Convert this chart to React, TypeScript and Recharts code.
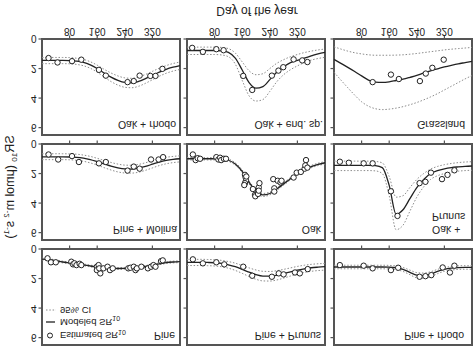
import { ComposedChart, Line, Scatter, XAxis, YAxis, ReferenceArea } from "recharts";

const DAYS = [0, 20, 40, 60, 80, 100, 120, 140, 160, 180, 200, 220, 240, 260, 280, 300, 320, 340, 360, 380, 400];
const X_TICKS = [80, 160, 240, 320];
const Y_TICKS = [0, 2, 4, 6];

// Oak + rhodo
const OAK_RHODO_PT_DAY = [19, 45, 87, 114, 165, 185, 248, 266, 283, 314, 329, 349];
const OAK_RHODO_PT_SR = [1.29, 1.59, 1.5, 1.4, 2.09, 2.48, 2.92, 2.85, 2.48, 2.5, 2.5, 2.02];
const OAK_RHODO_MOD = [1.45, 1.45, 1.45, 1.45, 1.46, 1.5, 1.58, 1.75, 2.0, 2.3, 2.58, 2.8, 2.94, 2.97, 2.87, 2.68, 2.46, 2.24, 2.05, 1.91, 1.8];
const OAK_RHODO_CI1 = [1.25, 1.25, 1.25, 1.25, 1.26, 1.3, 1.38, 1.54, 1.77, 2.05, 2.3, 2.5, 2.63, 2.66, 2.57, 2.4, 2.19, 1.98, 1.8, 1.66, 1.56];
const OAK_RHODO_CI2 = [1.67, 1.67, 1.67, 1.67, 1.68, 1.72, 1.81, 1.98, 2.25, 2.57, 2.88, 3.12, 3.27, 3.3, 3.2, 3.0, 2.76, 2.52, 2.32, 2.17, 2.06];

// Oak + end. sp.
const OAK_END_PT_DAY = [15, 46, 85, 106, 163, 189, 246, 265, 279, 309, 334, 349];
const OAK_END_PT_SR = [0.6, 0.87, 0.69, 0.76, 2.5, 3.45, 2.48, 2.14, 1.91, 1.38, 1.45, 1.56];
const OAK_END_MOD = [0.78, 0.78, 0.78, 0.78, 0.78, 0.8, 0.9, 1.3, 2.1, 2.95, 3.33, 3.22, 2.75, 2.25, 1.88, 1.6, 1.45, 1.3, 1.15, 1.0, 0.9];
const OAK_END_CI1 = [0.55, 0.55, 0.55, 0.55, 0.55, 0.57, 0.65, 0.95, 1.55, 2.15, 2.42, 2.35, 2.0, 1.65, 1.4, 1.2, 1.05, 0.92, 0.82, 0.74, 0.68];
const OAK_END_CI2 = [1.05, 1.05, 1.05, 1.05, 1.05, 1.08, 1.2, 1.7, 2.8, 3.85, 4.2, 4.1, 3.55, 2.9, 2.42, 2.08, 1.82, 1.6, 1.43, 1.32, 1.24];

// Grassland
const GRASS_PT_DAY = [112, 165, 188, 249, 266, 285, 318];
const GRASS_PT_SR = [2.92, 2.41, 2.71, 2.85, 2.34, 1.95, 1.4];
const GRASS_MOD = [1.38, 1.65, 1.92, 2.2, 2.5, 2.78, 2.92, 2.94, 2.9, 2.81, 2.72, 2.6, 2.47, 2.3, 2.15, 2.02, 1.89, 1.78, 1.68, 1.6, 1.52];
const GRASS_CI1 = [0.53, 0.68, 0.82, 0.93, 1.01, 1.07, 1.1, 1.1, 1.1, 1.09, 1.07, 1.03, 0.98, 0.92, 0.86, 0.8, 0.74, 0.69, 0.65, 0.61, 0.57];
const GRASS_CI2 = [2.25, 2.78, 3.3, 3.8, 4.25, 4.55, 4.72, 4.78, 4.75, 4.68, 4.58, 4.45, 4.3, 4.12, 3.92, 3.7, 3.45, 3.2, 2.95, 2.7, 2.48];

// Pine + Molina
const PINE_MOL_PT_DAY = [19, 47, 87, 107, 165, 185, 248, 266, 283, 316, 338, 351];
const PINE_MOL_PT_SR = [0.71, 1.05, 0.82, 1.22, 1.31, 1.22, 1.8, 1.53, 1.67, 1.05, 1.05, 0.89];
const PINE_MOL_MOD = [0.87, 0.87, 0.87, 0.87, 0.88, 0.9, 0.96, 1.06, 1.2, 1.35, 1.5, 1.62, 1.69, 1.7, 1.64, 1.52, 1.37, 1.22, 1.11, 1.04, 1.0];
const PINE_MOL_CI1 = [0.66, 0.66, 0.66, 0.66, 0.67, 0.69, 0.75, 0.84, 0.97, 1.11, 1.25, 1.36, 1.43, 1.44, 1.38, 1.27, 1.13, 0.99, 0.9, 0.84, 0.8];
const PINE_MOL_CI2 = [1.06, 1.06, 1.06, 1.06, 1.07, 1.1, 1.17, 1.28, 1.43, 1.6, 1.76, 1.89, 1.96, 1.97, 1.91, 1.78, 1.62, 1.46, 1.34, 1.26, 1.21];

// Oak
const OAK_PT_DAY = [17, 25, 31, 38, 85, 91, 96, 99, 107, 113, 168, 170, 171, 168, 166, 172, 191, 197, 198, 206, 208, 210, 208, 250, 253, 253, 263, 271, 274, 309, 318, 330, 341, 345, 343, 349];
const OAK_PT_SR = [0.71, 1.09, 0.96, 1.0, 0.89, 1.05, 0.93, 1.09, 1.0, 1.0, 2.09, 2.27, 2.49, 2.65, 2.78, 2.2, 3.05, 3.45, 3.54, 3.38, 2.94, 2.65, 3.16, 2.38, 3.0, 3.22, 2.49, 2.6, 2.49, 2.27, 1.94, 1.89, 1.67, 1.09, 1.45, 1.6];
const OAK_MOD = [1.0, 1.0, 1.0, 1.0, 1.0, 1.02, 1.1, 1.35, 1.85, 2.6, 3.2, 3.45, 3.35, 3.05, 2.7, 2.35, 2.02, 1.75, 1.53, 1.38, 1.27];
const OAK_CI1 = [0.92, 0.92, 0.92, 0.92, 0.92, 0.94, 1.02, 1.27, 1.76, 2.5, 3.1, 3.35, 3.25, 2.96, 2.61, 2.27, 1.94, 1.67, 1.45, 1.3, 1.19];
const OAK_CI2 = [1.08, 1.08, 1.08, 1.08, 1.08, 1.1, 1.18, 1.43, 1.94, 2.7, 3.3, 3.55, 3.45, 3.14, 2.79, 2.43, 2.1, 1.83, 1.61, 1.46, 1.35];

// Oak + Prunus
const OAK_PRU_PT_DAY = [17, 43, 86, 112, 165, 184, 248, 265, 281, 313, 329, 349];
const OAK_PRU_PT_SR = [1.2, 1.27, 1.31, 1.31, 3.2, 4.87, 2.65, 2.56, 1.94, 2.38, 2.09, 1.78];
const OAK_PRU_MOD = [1.45, 1.45, 1.45, 1.45, 1.45, 1.45, 1.47, 1.6, 2.8, 4.75, 4.45, 3.7, 2.95, 2.4, 2.0, 1.8, 1.68, 1.6, 1.55, 1.51, 1.49];
const OAK_PRU_CI1 = [1.16, 1.16, 1.16, 1.16, 1.16, 1.16, 1.18, 1.28, 2.2, 3.6, 3.5, 2.95, 2.4, 2.0, 1.7, 1.52, 1.4, 1.32, 1.26, 1.22, 1.2];
const OAK_PRU_CI2 = [1.8, 1.8, 1.8, 1.8, 1.8, 1.8, 1.82, 2.0, 3.5, 5.8, 5.5, 4.55, 3.6, 2.9, 2.4, 2.15, 2.0, 1.9, 1.84, 1.8, 1.78];

// Pine
const PINE_PT_DAY = [16, 26, 40, 85, 90, 94, 100, 109, 114, 159, 164, 159, 169, 166, 178, 190, 197, 205, 250, 256, 266, 271, 275, 288, 307, 316, 323, 329, 345, 350];
const PINE_PT_SR = [0.63, 0.9, 0.9, 0.86, 1.04, 0.97, 1.09, 1.0, 1.09, 1.2, 1.09, 1.43, 1.65, 1.31, 1.31, 1.2, 1.43, 1.31, 1.31, 1.27, 1.2, 1.43, 1.31, 1.2, 1.31, 1.2, 1.09, 1.2, 0.82, 0.77];
const PINE_MOD = [0.68, 0.72, 0.8, 0.88, 0.94, 1.0, 1.07, 1.15, 1.22, 1.28, 1.31, 1.32, 1.31, 1.28, 1.24, 1.18, 1.1, 1.0, 0.92, 0.88, 0.86];
const PINE_CI1 = [0.62, 0.66, 0.74, 0.82, 0.88, 0.94, 1.01, 1.09, 1.16, 1.22, 1.25, 1.26, 1.25, 1.22, 1.18, 1.12, 1.04, 0.94, 0.86, 0.82, 0.8];
const PINE_CI2 = [0.74, 0.78, 0.86, 0.94, 1.0, 1.06, 1.13, 1.21, 1.28, 1.34, 1.37, 1.38, 1.37, 1.34, 1.3, 1.24, 1.16, 1.06, 0.98, 0.94, 0.92];

// Pine + Prunus
const PINE_PRU_PT_DAY = [17, 46, 85, 108, 163, 189, 246, 266, 280, 313, 327, 350];
const PINE_PRU_PT_SR = [0.7, 0.97, 0.9, 1.04, 1.2, 1.81, 1.88, 1.65, 1.72, 1.59, 1.65, 1.36];
const PINE_PRU_MOD = [0.9, 0.9, 0.9, 0.91, 0.93, 0.98, 1.07, 1.2, 1.38, 1.57, 1.73, 1.83, 1.84, 1.78, 1.67, 1.55, 1.43, 1.34, 1.27, 1.23, 1.2];
const PINE_PRU_CI1 = [0.7, 0.7, 0.7, 0.71, 0.73, 0.77, 0.85, 0.96, 1.12, 1.28, 1.42, 1.51, 1.52, 1.47, 1.38, 1.28, 1.18, 1.1, 1.04, 1.0, 0.98];
const PINE_PRU_CI2 = [1.12, 1.12, 1.12, 1.13, 1.15, 1.2, 1.3, 1.45, 1.65, 1.86, 2.05, 2.16, 2.17, 2.1, 1.97, 1.83, 1.69, 1.59, 1.51, 1.46, 1.43];

// Pine + rhodo
const PINE_RHO_PT_DAY = [17, 86, 112, 165, 186, 248, 265, 282, 315, 336, 349];
const PINE_RHO_PT_SR = [1.09, 1.13, 1.31, 1.43, 1.27, 1.88, 1.84, 1.77, 1.25, 1.59, 1.13];
const PINE_RHO_MOD = [1.22, 1.22, 1.22, 1.22, 1.22, 1.22, 1.22, 1.22, 1.23, 1.27, 1.38, 1.58, 1.77, 1.8, 1.7, 1.52, 1.38, 1.3, 1.26, 1.25, 1.25];
const PINE_RHO_CI1 = [1.1, 1.1, 1.1, 1.1, 1.1, 1.1, 1.1, 1.1, 1.11, 1.15, 1.25, 1.43, 1.6, 1.63, 1.54, 1.38, 1.26, 1.18, 1.14, 1.13, 1.13];
const PINE_RHO_CI2 = [1.34, 1.34, 1.34, 1.34, 1.34, 1.34, 1.34, 1.34, 1.35, 1.4, 1.52, 1.74, 1.95, 1.98, 1.87, 1.67, 1.51, 1.43, 1.38, 1.37, 1.37];

// layout (figure is drawn upright, then mirrored top-to-bottom like the reference)
const COL_X = [42, 187, 334];
const ROW_Y = [2, 107, 212];
const PW = 138;
const PH = 96;
const AXIS_W = 30;

const PANELS = [
    { label: ["Pine"], lx: 175, ly: 15, anchor: "end", col: 0, row: 0, ptDay: PINE_PT_DAY, ptSr: PINE_PT_SR, mod: PINE_MOD, ci1: PINE_CI1, ci2: PINE_CI2 },
    { label: ["Pine + Prunus"], lx: 321, ly: 15, anchor: "end", col: 1, row: 0, ptDay: PINE_PRU_PT_DAY, ptSr: PINE_PRU_PT_SR, mod: PINE_PRU_MOD, ci1: PINE_PRU_CI1, ci2: PINE_PRU_CI2 },
    { label: ["Pine + rhodo"], lx: 464, ly: 15, anchor: "end", col: 2, row: 0, ptDay: PINE_RHO_PT_DAY, ptSr: PINE_RHO_PT_SR, mod: PINE_RHO_MOD, ci1: PINE_RHO_CI1, ci2: PINE_RHO_CI2 },
    { label: ["Pine + Molina"], lx: 177, ly: 121, anchor: "end", col: 0, row: 1, ptDay: PINE_MOL_PT_DAY, ptSr: PINE_MOL_PT_SR, mod: PINE_MOL_MOD, ci1: PINE_MOL_CI1, ci2: PINE_MOL_CI2 },
    { label: ["Oak"], lx: 321, ly: 121, anchor: "end", col: 1, row: 1, ptDay: OAK_PT_DAY, ptSr: OAK_PT_SR, mod: OAK_MOD, ci1: OAK_CI1, ci2: OAK_CI2 },
    { label: ["Oak +", "Prunus"], lx: 432, ly: 121, anchor: "start", col: 2, row: 1, ptDay: OAK_PRU_PT_DAY, ptSr: OAK_PRU_PT_SR, mod: OAK_PRU_MOD, ci1: OAK_PRU_CI1, ci2: OAK_PRU_CI2 },
    { label: ["Oak + rhodo"], lx: 176, ly: 226, anchor: "end", col: 0, row: 2, ptDay: OAK_RHODO_PT_DAY, ptSr: OAK_RHODO_PT_SR, mod: OAK_RHODO_MOD, ci1: OAK_RHODO_CI1, ci2: OAK_RHODO_CI2 },
    { label: ["Oak + end. sp."], lx: 323, ly: 226, anchor: "end", col: 1, row: 2, ptDay: OAK_END_PT_DAY, ptSr: OAK_END_PT_SR, mod: OAK_END_MOD, ci1: OAK_END_CI1, ci2: OAK_END_CI2 },
    { label: ["Grassland"], lx: 465, ly: 226, anchor: "end", col: 2, row: 2, ptDay: GRASS_PT_DAY, ptSr: GRASS_PT_SR, mod: GRASS_MOD, ci1: GRASS_CI1, ci2: GRASS_CI2 },
];

const FONT = "'Liberation Sans', Arial, sans-serif";
const INK = "#222";
const FRAME = "#555";
const CI_COLOR = "#8c8c8c";

const OpenDot = (props: any) => {
    const { cx, cy } = props;
    if (cx == null || cy == null) return <g />;
    return <circle cx={cx} cy={cy} r={2.7} fill="#fff" stroke={INK} strokeWidth={1} />;
};

const NoTick = () => <g />;

const Panel = ({ p }: { p: any }) => {
    const curve = DAYS.map((d, i) => ({ day: d, mod: p.mod[i], ci1: p.ci1[i], ci2: p.ci2[i] }));
    const pts = p.ptDay.map((d: number, i: number) => ({ day: d, sr: p.ptSr[i] }));
    const showX = p.row === 2;
    const showY = p.col === 0;

    return (
        <div style={{ position: "absolute", left: COL_X[p.col] - AXIS_W, top: ROW_Y[p.row] - 4 }}>
            <ComposedChart
                width={AXIS_W + PW + 4}
                height={PH + 4 + 30}
                margin={{ top: 4, right: 4, left: 0, bottom: 0 }}
            >
                <XAxis
                    type="number"
                    dataKey="day"
                    domain={[0, 400]}
                    ticks={X_TICKS}
                    axisLine={false}
                    tickLine={{ stroke: FRAME, strokeWidth: 1.2 }}
                    tickSize={3.5}
                    tickMargin={0}
                    height={30}
                    tick={showX ? { fontSize: 10, fill: INK, fontFamily: FONT } : NoTick}
                />
                <YAxis
                    type="number"
                    domain={[0, 6.5]}
                    ticks={Y_TICKS}
                    axisLine={false}
                    tickLine={{ stroke: FRAME, strokeWidth: 1.2 }}
                    tickSize={3.5}
                    tickMargin={2}
                    width={AXIS_W}
                    allowDataOverflow
                    tick={showY ? { fontSize: 10, fill: INK, fontFamily: FONT } : NoTick}
                />
                <ReferenceArea x1={0} x2={400} y1={0} y2={6.5} fill="none" fillOpacity={0} stroke={FRAME} strokeWidth={2} />
                <Line data={curve} dataKey="ci1" type="monotone" stroke={CI_COLOR} strokeWidth={1} strokeDasharray="1.5 1.8" dot={false} isAnimationActive={false} />
                <Line data={curve} dataKey="ci2" type="monotone" stroke={CI_COLOR} strokeWidth={1} strokeDasharray="1.5 1.8" dot={false} isAnimationActive={false} />
                <Line data={curve} dataKey="mod" type="monotone" stroke={INK} strokeWidth={1.3} dot={false} isAnimationActive={false} />
                <Scatter data={pts} dataKey="sr" shape={<OpenDot />} isAnimationActive={false} />
            </ComposedChart>
        </div>
    );
};

export default function App() {
    return (
        <div
            style={{
                position: "absolute",
                left: 0,
                top: 0,
                width: 474,
                height: 347,
                background: "#fff",
                transform: "scaleY(-1)",
                transformOrigin: "50% 50%",
                fontFamily: FONT,
            }}
        >
            {PANELS.map((p) => (
                <Panel key={p.label.join(" ")} p={p} />
            ))}
            <svg width={474} height={347} style={{ position: "absolute", left: 0, top: 0, pointerEvents: "none" }}>
                <g fontFamily={FONT} fill={INK}>
                    {PANELS.map((p) =>
                        p.label.map((t: string, j: number) => (
                            <text key={t} x={p.lx} y={p.ly + j * 13} fontSize={10.5} textAnchor={p.anchor}>
                                {t}
                            </text>
                        ))
                    )}
                    <text x={257} y={340} fontSize={12} textAnchor="middle">Day of the year</text>
                    <text x={14} y={160} fontSize={12.5} textAnchor="middle" transform="rotate(-90, 14, 160)">
                        SR<tspan fontSize={8} dy={3}>10</tspan>
                        <tspan dy={-3}> (μmol m</tspan>
                        <tspan fontSize={8} dy={-5}>-2</tspan>
                        <tspan dy={5}> s</tspan>
                        <tspan fontSize={8} dy={-5}>-1</tspan>
                        <tspan dy={5}>)</tspan>
                    </text>
                    {/* legend, Pine panel */}
                    <circle cx={50} cy={11.5} r={2.5} fill="#fff" stroke={INK} strokeWidth={1} />
                    <text x={60} y={15} fontSize={9.5}>
                        Estimated SR<tspan fontSize={7} dy={2.5}>10</tspan>
                    </text>
                    <line x1={46} x2={55} y1={25} y2={25} stroke={INK} strokeWidth={1.3} />
                    <text x={60} y={28.5} fontSize={9.5}>
                        Modeled SR<tspan fontSize={7} dy={2.5}>10</tspan>
                    </text>
                    <line x1={46} x2={56} y1={37} y2={37} stroke={CI_COLOR} strokeWidth={1} strokeDasharray="1.5 1.8" />
                    <text x={60} y={40.5} fontSize={9.5}>95% CI</text>
                </g>
            </svg>
        </div>
    );
}
